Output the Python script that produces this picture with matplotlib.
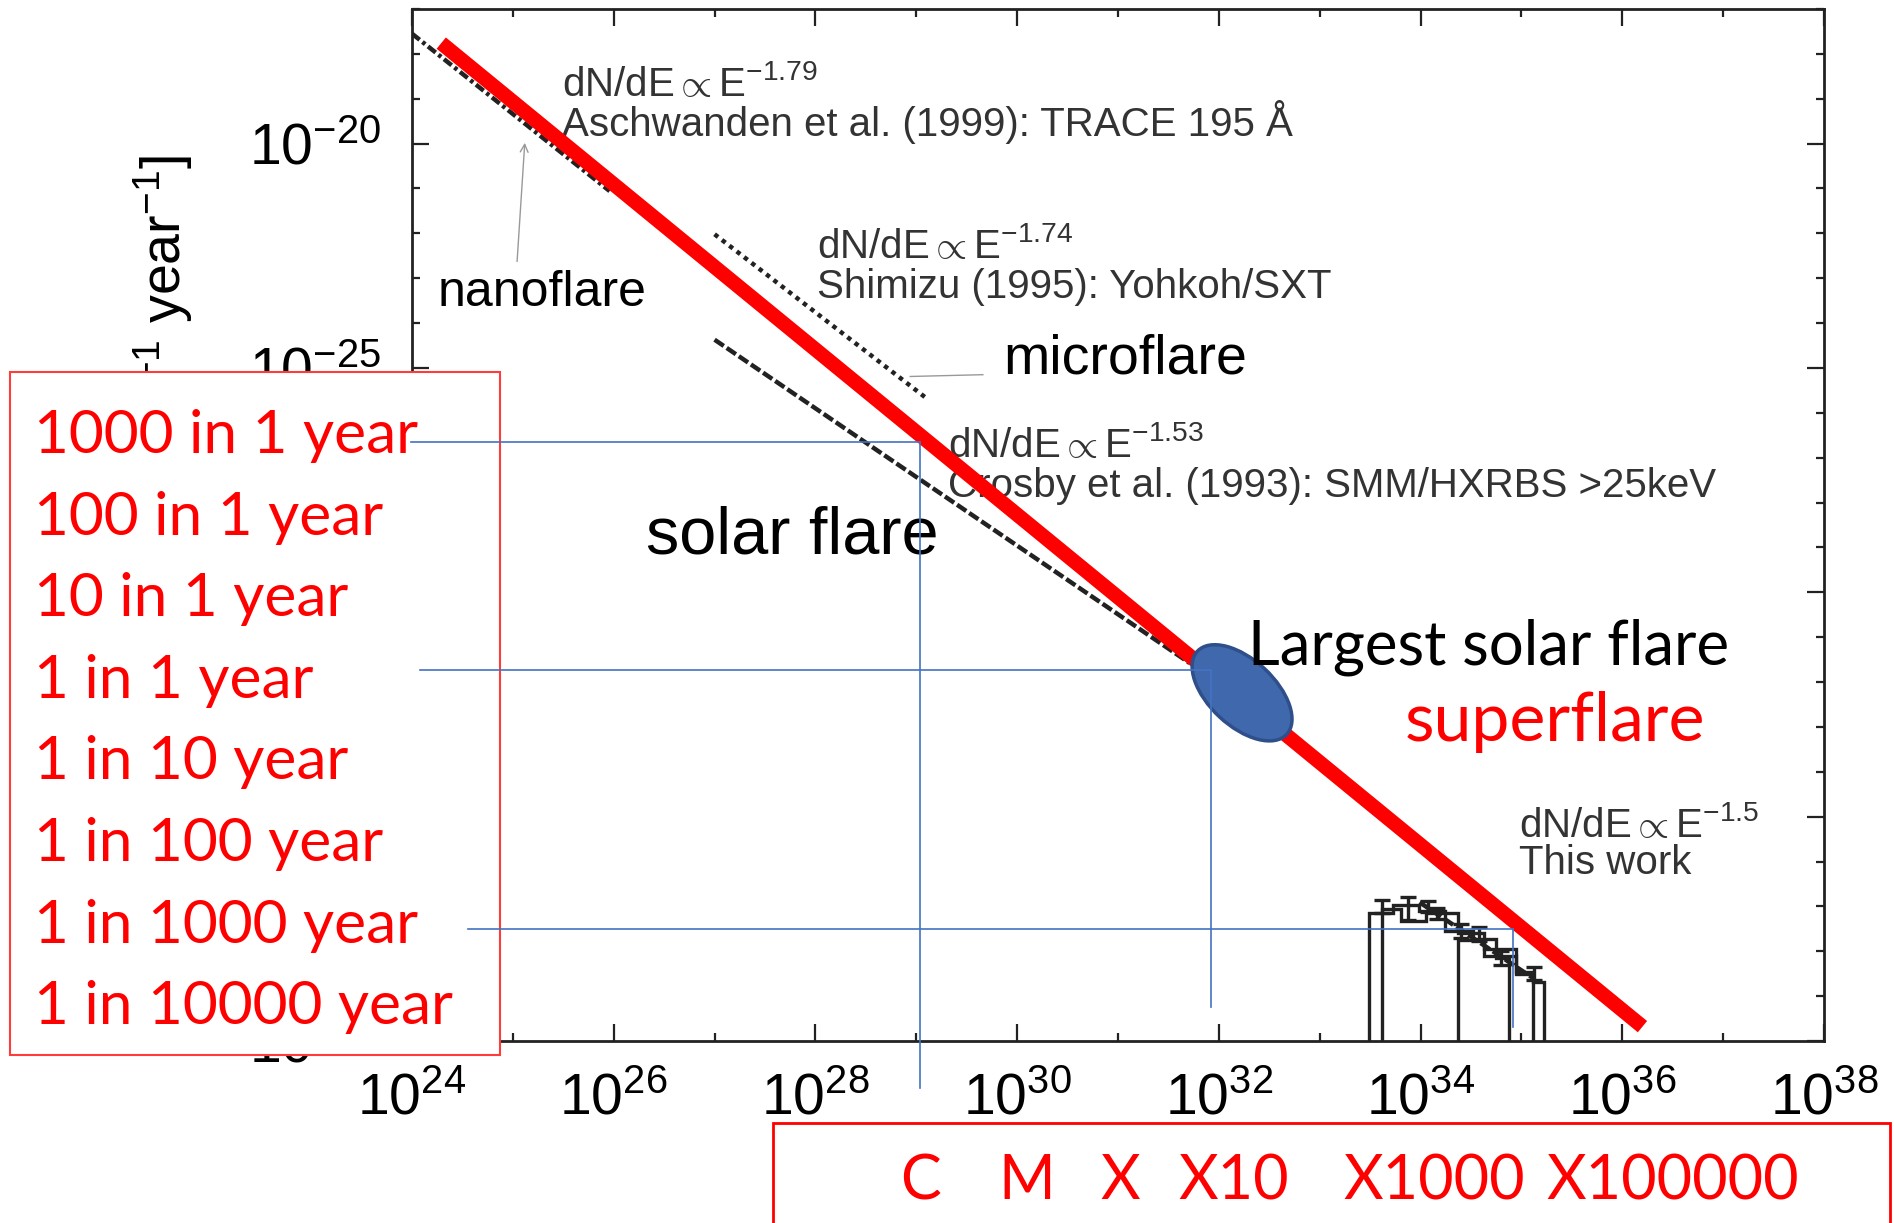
import numpy as np
import matplotlib
matplotlib.use("Agg")
import matplotlib.pyplot as plt
from matplotlib.patches import Ellipse, Rectangle
from matplotlib.lines import Line2D
from matplotlib.transforms import ScaledTranslation, blended_transform_factory
from matplotlib.ticker import NullFormatter, FixedFormatter

plt.rcParams['font.family'] = ['Liberation Sans', 'DejaVu Sans']
plt.rcParams['mathtext.fontset'] = 'custom'
plt.rcParams['mathtext.rm'] = 'Liberation Sans'
plt.rcParams['mathtext.it'] = 'Liberation Sans:italic'
plt.rcParams['mathtext.bf'] = 'Liberation Sans:bold'

SLIDE_FONT = ['Lato', 'DejaVu Sans']
RED = '#FF0000'
GUIDE = '#4472C4'

# power-law fits from the literature (log10 values)
fit_refs = ["Aschwanden et al. (1999): TRACE 195 Å",
            "Shimizu (1995): Yohkoh/SXT",
            "Crosby et al. (1993): SMM/HXRBS >25keV",
            "This work"]
fit_index = [1.79, 1.74, 1.53, 1.5]
fit_logE0 = [24.0, 27.0, 27.0, 33.99]
fit_logN0 = [-17.55, -22.02, -24.37, -36.91]
fit_logE1 = [25.96, 29.11, 31.71, 35.12]

# extrapolated trend through solar flares to superflares
trend_logE = [24.29, 36.2]
trend_logN = [-17.76, -39.68]

# largest solar flare
largest_logE = 32.23
largest_logN = -32.24

# superflare frequency histograms (log bin edges, log counts)
histA_edges = [33.49, 33.73, 33.98, 34.24, 34.52, 34.75, 34.88]
histA_logN = [-37.15, -36.98, -37.10, -37.54, -37.73, -38.14]
histB_edges = [33.62, 33.81, 34.05, 34.37, 34.63, 34.95, 35.11]
histB_logN = [-37.05, -37.32, -37.15, -37.60, -37.95, -38.47]
histC_edges = [34.37, 34.63, 34.95, 35.11, 35.22]
histC_logN = [-37.75, -38.10, -38.50, -38.69]
err_logE = [33.62, 33.88, 34.07, 34.16, 34.40, 34.58, 34.80, 35.12]
err_logN = [-37.00, -37.05, -37.00, -37.15, -37.55, -37.62, -38.15, -38.50]
err_dex = [0.15, 0.25, 0.12, 0.12, 0.15, 0.15, 0.15, 0.15]

# occurrence-rate labels and guide lines
rate_labels = ["1000 in 1 year", "100 in 1 year", "10 in 1 year", "1 in 1 year",
               "1 in 10 year", "1 in 100 year", "1 in 1000 year", "1 in 10000 year"]
guide_logN = [-26.66, -31.73, -37.50]
guide_logE = [29.04, 31.92, 34.92]

# GOES classes along the energy axis
flare_classes = ["C", "M", "X", "X10", "X1000", "X100000"]
class_logE = [29.04, 30.10, 31.02, 32.15, 34.14, 36.50]

# y tick labels (the middle ones sit under the rate panel)
ytick_exp = [-40, -35, -30, -25, -20]
ytick_text = [r"$\mathdefault{10^{-40}}$", "", "", r"$\mathdefault{10^{-25}}$",
              r"$\mathdefault{10^{-20}}$"]

W, H = 1894, 1223
fig = plt.figure(figsize=(W / 100, H / 100), dpi=100)
ax = fig.add_axes([412 / W, 1 - 1041 / H, (1824 - 412) / W, (1041 - 9) / H])
ax.set_xscale('log')
ax.set_yscale('log')
ax.set_xlim(1e24, 1e38)
ax.set_ylim(1e-40, 10 ** -17.0)

ax.set_xticks([10.0 ** k for k in range(24, 39, 2)])
ax.set_xticks([10.0 ** k for k in range(25, 38, 2)], minor=True)
ax.set_yticks([10.0 ** k for k in ytick_exp])
ax.yaxis.set_major_formatter(FixedFormatter(ytick_text))
ax.set_yticks([10.0 ** k for k in range(-40, -16)], minor=True)
ax.xaxis.set_minor_formatter(NullFormatter())
ax.yaxis.set_minor_formatter(NullFormatter())
ax.tick_params(which='both', direction='in', top=True, right=True, width=1.6, color='#222')
ax.tick_params(which='major', length=12, labelsize=41)
ax.tick_params(which='minor', length=6)
ax.tick_params(axis='x', which='major', pad=23)
ax.tick_params(axis='y', which='major', pad=22)
for s in ax.spines.values():
    s.set_linewidth(2)
    s.set_color('#222')

fig.text(163 / W, 1 - 155 / H, "[erg$^{-1}$ year$^{-1}$]",
         rotation=90, ha='center', va='top', fontsize=40, zorder=2)

# literature fits
styles = [(0, (2.2, 0.8, 0.8, 0.8)), (0, (1.0, 1.1)), (0, (2.5, 0.8)), (0, (2.5, 0.8))]
for a, e0, n0, e1, ls in zip(fit_index, fit_logE0, fit_logN0, fit_logE1, styles):
    n1 = n0 - a * (e1 - e0)
    ax.plot([10 ** e0, 10 ** e1], [10 ** n0, 10 ** n1], color='#222', lw=3.2,
            ls=ls, zorder=3)

# superflare histograms with error bars
for edges, vals in [(histA_edges, histA_logN), (histB_edges, histB_logN), (histC_edges, histC_logN)]:
    ax.stairs(10 ** np.array(vals), 10 ** np.array(edges), baseline=1e-41,
              color='#222', lw=2.4, zorder=3)
ey = 10 ** np.array(err_logN)
ed = np.array(err_dex)
ax.errorbar(10 ** np.array(err_logE), ey, yerr=[ey - ey * 10 ** -ed, ey * 10 ** ed - ey],
            fmt='none', ecolor='#222', elinewidth=2.4, capsize=6, capthick=2.4, zorder=3)

# trend line and largest solar flare
ax.plot(10 ** np.array(trend_logE), 10 ** np.array(trend_logN), color=RED, lw=10.5,
        solid_capstyle='butt', zorder=5)
blob = Ellipse((0, 0), 1.22, 0.66, angle=-43, facecolor='#4068AD', edgecolor='#2F4F8A',
               lw=2.5, zorder=7,
               transform=fig.dpi_scale_trans + ScaledTranslation(10 ** largest_logE, 10 ** largest_logN, ax.transData))
ax.add_artist(blob)

# pointers
ax.annotate('', xy=(10 ** 25.12, 10 ** -19.92), xytext=(10 ** 25.04, 10 ** -22.69),
            arrowprops=dict(arrowstyle='->', color='#999999', lw=1, mutation_scale=14))
ax.plot([10 ** 28.94, 10 ** 29.66], [10 ** -25.19, 10 ** -25.15], color='#999999', lw=1)

# annotations
txt = dict(color='#333333', fontsize=29, va='baseline', ha='left')
law = r"dN/dE$\propto$E$^{-%g}$"
ax.text(10 ** 25.49, 10 ** -18.95, law % fit_index[0], **txt)
ax.text(10 ** 25.49, 10 ** -19.83, fit_refs[0], **txt)
ax.text(10 ** 28.02, 10 ** -22.54, law % fit_index[1], **txt)
ax.text(10 ** 28.02, 10 ** -23.43, fit_refs[1], **txt)
ax.text(10 ** 29.31, 10 ** -26.99, law % fit_index[2], **txt)
ax.text(10 ** 29.31, 10 ** -27.87, fit_refs[2], **txt)
ax.text(10 ** 34.98, 10 ** -35.46, law % fit_index[3], **txt)
ax.text(10 ** 34.98, 10 ** -36.28, fit_refs[3], **txt)

ax.text(10 ** 24.25, 10 ** -23.61, "nanoflare", fontsize=36, va='baseline')
ax.text(10 ** 29.86, 10 ** -25.12, "microflare", fontsize=40, va='baseline')
ax.text(10 ** 26.32, 10 ** -29.14, "solar flare", fontsize=48, va='baseline')
ax.text(10 ** 32.29, 10 ** -31.60, "Largest solar flare", family=SLIDE_FONT, fontsize=44.5,
        va='baseline', zorder=8)
ax.text(10 ** 33.84, 10 ** -33.31, "superflare", family=SLIDE_FONT, fontsize=49,
        color=RED, va='baseline', zorder=8)

# occurrence-rate panel
fig.add_artist(Rectangle((10 / W, 1 - 1055 / H), 490 / W, 683 / H, transform=fig.transFigure,
                         facecolor='white', edgecolor='#FF3B3B', lw=1.5, zorder=10))
for i, lab in enumerate(rate_labels):
    fig.text(34 / W, 1 - (453 + 81.6 * i) / H, lab, family=SLIDE_FONT, fontsize=43.5,
             color=RED, va='baseline', zorder=11)

# guide lines from rate labels to the trend
starts = [23.99, 24.08, 24.56]
bottoms = [-41.04, -39.25, -39.68]
for x0, ly, lx, yb in zip(starts, guide_logN, guide_logE, bottoms):
    fig.add_artist(Line2D([10 ** x0, 10 ** lx], [10 ** ly, 10 ** ly], color=GUIDE, lw=1.2,
                          transform=ax.transData, zorder=12))
    fig.add_artist(Line2D([10 ** lx, 10 ** lx], [10 ** ly, 10 ** yb], color=GUIDE, lw=1.2,
                          transform=ax.transData, zorder=6))

# GOES class panel
fig.add_artist(Rectangle((773 / W, -0.05), (1890 - 773) / W, 1 - 1123 / H + 0.05,
                         transform=fig.transFigure, facecolor='white', edgecolor=RED,
                         lw=2, zorder=10))
tr = blended_transform_factory(ax.transData, fig.transFigure)
for lab, e in zip(flare_classes, class_logE):
    fig.text(10 ** e, 1 - 1199 / H, lab, transform=tr, family=SLIDE_FONT, fontsize=44,
             color=RED, ha='center', va='baseline', zorder=11)

fig.savefig("out.png", dpi=100)
